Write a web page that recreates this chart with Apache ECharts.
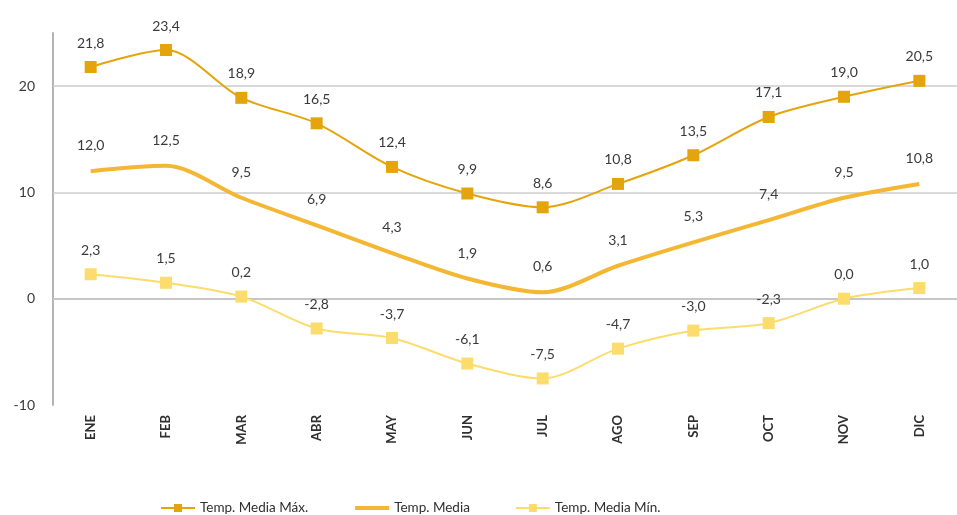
<!DOCTYPE html>
<html>
<head>
<meta charset="utf-8">
<script src="https://cdn.jsdelivr.net/npm/echarts@6/dist/echarts.min.js"></script>
<style>
  html, body { margin: 0; padding: 0; background: #ffffff; }
  #chart { width: 957px; height: 515px; }
</style>
</head>
<body>
<div id="chart"></div>
<script>
// Monthly temperatures (°C)
const months = ['ENE', 'FEB', 'MAR', 'ABR', 'MAY', 'JUN', 'JUL', 'AGO', 'SEP', 'OCT', 'NOV', 'DIC'];
const tempMax = [21.8, 23.4, 18.9, 16.5, 12.4, 9.9, 8.6, 10.8, 13.5, 17.1, 19.0, 20.5];
const tempMedia = [12.0, 12.5, 9.5, 6.9, 4.3, 1.9, 0.6, 3.1, 5.3, 7.4, 9.5, 10.8];
const tempMin = [2.3, 1.5, 0.2, -2.8, -3.7, -6.1, -7.5, -4.7, -3.0, -2.3, 0.0, 1.0];
const gridValues = [0, 10, 20];

const FONT = 'Lato';
const COLOR_MAX = '#e4a40b';
const COLOR_MEDIA = '#f4b733';
const COLOR_MIN = '#fbdc6c';
const comma = v => Number(v).toFixed(1).replace('.', ',');

const valueLabel = {
  show: true,
  position: 'top',
  distance: 11,
  color: '#3a3a3a',
  fontFamily: FONT,
  fontSize: 14,
  formatter: p => comma(p.value)
};

const chart = echarts.init(document.getElementById('chart'));
chart.setOption({
  animation: false,
  backgroundColor: '#ffffff',
  grid: { left: 53, top: 33, width: 916, height: 372 },
  xAxis: {
    type: 'category',
    data: months,
    boundaryGap: true,
    axisLine: { lineStyle: { color: '#b4b4b4', width: 2 } },
    axisTick: { show: false },
    axisLabel: {
      rotate: 90,
      margin: 10,
      color: '#2f2f2f',
      fontFamily: FONT,
      fontSize: 13,
      fontWeight: 'bold'
    }
  },
  yAxis: {
    type: 'value',
    min: -10,
    max: 25,
    interval: 10,
    axisLine: { show: true, lineStyle: { color: '#b4b4b4', width: 2 } },
    axisTick: { show: false },
    splitLine: { show: false },
    axisLabel: {
      margin: 18,
      color: '#3a3a3a',
      fontFamily: FONT,
      fontSize: 14,
      formatter: v => (v === 25 ? '' : String(v))
    }
  },
  legend: {
    left: 160,
    top: 501,
    padding: 0,
    itemGap: 45,
    itemWidth: 34,
    itemHeight: 10,
    textStyle: { color: '#2f2f2f', fontFamily: FONT, fontSize: 13.5 },
    data: [
      { name: 'Temp. Media Máx.', lineStyle: { width: 2 } },
      { name: 'Temp. Media', lineStyle: { width: 4, color: COLOR_MEDIA } },
      { name: 'Temp. Media Mín.', lineStyle: { width: 2 } }
    ]
  },
  series: [
    {
      name: 'Temp. Media Mín.',
      type: 'line',
      data: tempMin,
      smooth: 0.3,
      symbol: 'rect',
      symbolSize: 12,
      lineStyle: { color: COLOR_MIN, width: 2 },
      itemStyle: { color: COLOR_MIN },
      label: valueLabel,
      z: 3
    },
    {
      name: 'Temp. Media',
      type: 'line',
      data: tempMedia,
      smooth: 0.3,
      symbol: 'circle',
      symbolSize: 1,
      showSymbol: true,
      lineStyle: { color: COLOR_MEDIA, width: 4 },
      itemStyle: { color: 'rgba(0,0,0,0)' },
      label: Object.assign({}, valueLabel, { distance: 18 }),
      z: 3
    },
    {
      name: 'Temp. Media Máx.',
      type: 'line',
      data: tempMax,
      smooth: 0.3,
      symbol: 'rect',
      symbolSize: 12,
      lineStyle: { color: COLOR_MAX, width: 2 },
      itemStyle: { color: COLOR_MAX },
      label: valueLabel,
      z: 4,
      markLine: {
        silent: true,
        symbol: 'none',
        label: { show: false },
        lineStyle: { color: '#cccccc', width: 1.5, type: 'solid' },
        data: gridValues.map(v => ({ yAxis: v })),
        z: 1
      }
    }
  ]
});
</script>
</body>
</html>
